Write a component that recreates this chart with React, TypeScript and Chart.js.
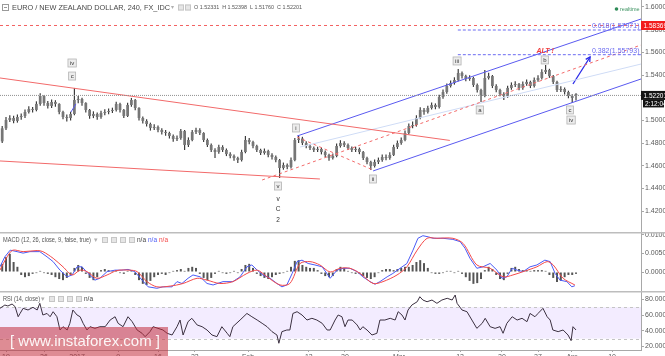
import React, { useEffect, useRef } from 'react';
import { Chart, registerables } from 'chart.js';

Chart.register(...registerables);

const FONT = '"Liberation Sans", Arial, Helvetica, sans-serif';

// ---------- time axis: one bar = half a trading day, bar 0 = Dec 19 ----------
const FIRST_BAR = -1;
const X_MIN = -1.58;
const X_MAX = 167.1;
const dateTickPositions = [0, 10, 18.7, 29.5, 40, 49.7, 63.7, 79.7, 89.2, 103.4, 119.5, 130.5, 140, 148.9, 159.5];
const dateTickLabels = ['19', '26', '2017', '9', '16', '23', 'Feb', '13', '20', 'Mar', '13', '20', '27', 'Apr', '10'];

// ---------- EUR/NZD candles ----------
const opens = [
  1.4815, 1.4930, 1.5003, 1.5021, 1.4995, 1.5030, 1.5039, 1.5074, 1.5100, 1.5092,
  1.5145, 1.5215, 1.5153, 1.5127, 1.5162, 1.5145, 1.5074, 1.5030, 1.5021, 1.5056,
  1.5180, 1.5189, 1.5153, 1.5092, 1.5039, 1.5056, 1.5030, 1.5065, 1.5074, 1.5083,
  1.5092, 1.5145, 1.5092, 1.5039, 1.5136, 1.5180, 1.5109, 1.5021, 1.4995, 1.4968,
  1.4933, 1.4942, 1.4915, 1.4897, 1.4889, 1.4862, 1.4836, 1.4844, 1.4906, 1.4783,
  1.4827, 1.4897, 1.4915, 1.4889, 1.4827, 1.4783, 1.4739, 1.4721, 1.4765, 1.4739,
  1.4703, 1.4686, 1.4668, 1.4650, 1.4721, 1.4827, 1.4809, 1.4774, 1.4739, 1.4712,
  1.4730, 1.4695, 1.4677, 1.4650, 1.4580, 1.4606, 1.4589, 1.4650, 1.4827, 1.4840,
  1.4800, 1.4774, 1.4756, 1.4739, 1.4748, 1.4721, 1.4695, 1.4668, 1.4686, 1.4774,
  1.4800, 1.4783, 1.4756, 1.4739, 1.4748, 1.4721, 1.4668, 1.4633, 1.4598, 1.4633,
  1.4650, 1.4677, 1.4668, 1.4695, 1.4765, 1.4800, 1.4827, 1.4889, 1.4950, 1.4959,
  1.5021, 1.5092, 1.5074, 1.5109, 1.5136, 1.5118, 1.5206, 1.5250, 1.5303, 1.5330,
  1.5356, 1.5418, 1.5391, 1.5365, 1.5374, 1.5312, 1.5268, 1.5215, 1.5374, 1.5391,
  1.5303, 1.5268, 1.5233, 1.5215, 1.5286, 1.5312, 1.5321, 1.5286, 1.5321, 1.5339,
  1.5303, 1.5356, 1.5374, 1.5427, 1.5444, 1.5391, 1.5339, 1.5268, 1.5277, 1.5250,
  1.5215, 1.52331,
];
const highs = [
  1.4950, 1.5030, 1.5045, 1.5040, 1.5052, 1.5060, 1.5095, 1.5125, 1.5118, 1.5168,
  1.5240, 1.5222, 1.5170, 1.5185, 1.5178, 1.5150, 1.5085, 1.5052, 1.5075, 1.5286,
  1.5215, 1.5200, 1.5160, 1.5100, 1.5080, 1.5070, 1.5085, 1.5098, 1.5105, 1.5112,
  1.5165, 1.5155, 1.5100, 1.5155, 1.5198, 1.5188, 1.5115, 1.5035, 1.5010, 1.4980,
  1.4965, 1.4955, 1.4930, 1.4915, 1.4900, 1.4875, 1.4866, 1.4925, 1.4915, 1.4850,
  1.4915, 1.4935, 1.4930, 1.4895, 1.4840, 1.4795, 1.4755, 1.4785, 1.4780, 1.4752,
  1.4718, 1.4700, 1.4680, 1.4740, 1.4862, 1.4845, 1.4820, 1.4785, 1.4750, 1.4752,
  1.4742, 1.4710, 1.4690, 1.4660, 1.4628, 1.4620, 1.4672, 1.4845, 1.4862, 1.4855,
  1.4815, 1.4790, 1.4770, 1.4768, 1.4760, 1.4735, 1.4705, 1.4708, 1.4795, 1.4825,
  1.4815, 1.4795, 1.4770, 1.4768, 1.4760, 1.4730, 1.4680, 1.4645, 1.4655, 1.4672,
  1.4698, 1.4700, 1.4718, 1.4785, 1.4822, 1.4850, 1.4910, 1.4972, 1.4990, 1.5045,
  1.5115, 1.5110, 1.5130, 1.5158, 1.5150, 1.5225, 1.5272, 1.5325, 1.5352, 1.5380,
  1.5453, 1.5430, 1.5402, 1.5398, 1.5385, 1.5325, 1.5280, 1.5444, 1.5420, 1.5400,
  1.5318, 1.5280, 1.5248, 1.5305, 1.5335, 1.5345, 1.5330, 1.5342, 1.5360, 1.5350,
  1.5378, 1.5398, 1.5450, 1.5488, 1.5455, 1.5400, 1.5350, 1.5300, 1.5290, 1.5262,
  1.5230, 1.52398,
];
const lows = [
  1.4800, 1.4915, 1.4985, 1.4975, 1.4980, 1.5005, 1.5020, 1.5060, 1.5070, 1.5080,
  1.5130, 1.5130, 1.5105, 1.5110, 1.5120, 1.5055, 1.5010, 1.4990, 1.5000, 1.5045,
  1.5150, 1.5130, 1.5070, 1.5015, 1.5020, 1.5005, 1.5015, 1.5045, 1.5055, 1.5065,
  1.5078, 1.5070, 1.5020, 1.5030, 1.5120, 1.5090, 1.5000, 1.4972, 1.4945, 1.4910,
  1.4915, 1.4895, 1.4875, 1.4865, 1.4840, 1.4812, 1.4818, 1.4830, 1.4739, 1.4765,
  1.4815, 1.4880, 1.4870, 1.4810, 1.4765, 1.4720, 1.4668, 1.4705, 1.4720, 1.4685,
  1.4665, 1.4645, 1.4624, 1.4638, 1.4710, 1.4790, 1.4755, 1.4720, 1.4695, 1.4698,
  1.4675, 1.4655, 1.4630, 1.4492, 1.4565, 1.4568, 1.4575, 1.4640, 1.4800, 1.4782,
  1.4755, 1.4738, 1.4720, 1.4722, 1.4700, 1.4675, 1.4645, 1.4655, 1.4675, 1.4760,
  1.4765, 1.4738, 1.4720, 1.4722, 1.4702, 1.4650, 1.4612, 1.4562, 1.4585, 1.4615,
  1.4635, 1.4648, 1.4652, 1.4685, 1.4748, 1.4785, 1.4815, 1.4875, 1.4930, 1.4945,
  1.5010, 1.5050, 1.5060, 1.5095, 1.5098, 1.5105, 1.5190, 1.5235, 1.5290, 1.5315,
  1.5345, 1.5370, 1.5345, 1.5350, 1.5295, 1.5245, 1.5162, 1.5205, 1.5360, 1.5285,
  1.5248, 1.5212, 1.5180, 1.5200, 1.5270, 1.5295, 1.5265, 1.5270, 1.5305, 1.5285,
  1.5290, 1.5340, 1.5360, 1.5410, 1.5375, 1.5320, 1.5250, 1.5250, 1.5228, 1.5195,
  1.5153, 1.51760,
];
const closes = [
  1.4930, 1.5003, 1.5021, 1.4995, 1.5030, 1.5039, 1.5074, 1.5100, 1.5092, 1.5145,
  1.5215, 1.5153, 1.5127, 1.5162, 1.5145, 1.5074, 1.5030, 1.5021, 1.5056, 1.5180,
  1.5189, 1.5153, 1.5092, 1.5039, 1.5056, 1.5030, 1.5065, 1.5074, 1.5083, 1.5092,
  1.5145, 1.5092, 1.5039, 1.5136, 1.5180, 1.5109, 1.5021, 1.4995, 1.4968, 1.4933,
  1.4942, 1.4915, 1.4897, 1.4889, 1.4862, 1.4836, 1.4844, 1.4906, 1.4783, 1.4827,
  1.4897, 1.4915, 1.4889, 1.4827, 1.4783, 1.4739, 1.4721, 1.4765, 1.4739, 1.4703,
  1.4686, 1.4668, 1.4650, 1.4721, 1.4827, 1.4809, 1.4774, 1.4739, 1.4712, 1.4730,
  1.4695, 1.4677, 1.4650, 1.4580, 1.4606, 1.4589, 1.4650, 1.4827, 1.4840, 1.4800,
  1.4774, 1.4756, 1.4739, 1.4748, 1.4721, 1.4695, 1.4668, 1.4686, 1.4774, 1.4800,
  1.4783, 1.4756, 1.4739, 1.4748, 1.4721, 1.4668, 1.4633, 1.4598, 1.4633, 1.4650,
  1.4677, 1.4668, 1.4695, 1.4765, 1.4800, 1.4827, 1.4889, 1.4950, 1.4959, 1.5021,
  1.5092, 1.5074, 1.5109, 1.5136, 1.5118, 1.5206, 1.5250, 1.5303, 1.5330, 1.5356,
  1.5418, 1.5391, 1.5365, 1.5374, 1.5312, 1.5268, 1.5215, 1.5374, 1.5391, 1.5303,
  1.5268, 1.5233, 1.5215, 1.5286, 1.5312, 1.5321, 1.5286, 1.5321, 1.5339, 1.5303,
  1.5356, 1.5374, 1.5427, 1.5444, 1.5391, 1.5339, 1.5268, 1.5277, 1.5250, 1.5215,
  1.5197, 1.52201,
];
const priceTicks = [1.42, 1.44, 1.46, 1.48, 1.5, 1.52, 1.54, 1.56, 1.58, 1.6];
const PRICE_MIN = 1.40155;
const PRICE_MAX = 1.60617;

// ---------- drawings on the price panel (bar, price) ----------
const alertLevel = 1.58369;
const fibStartBar = 118.9;
const fibLevels = [1.57971, 1.55793];
const fibLabels = ['0.618(1.57971)', '0.382(1.55793)'];
const fibLabelBar = 154.2;
const resistanceLine = [{ x: -1.58, y: 1.5374 }, { x: 116.8, y: 1.4823 }];
const supportLine = [{ x: -1.58, y: 1.4642 }, { x: 82.6, y: 1.4483 }];
const redDashRising = [{ x: 67.4, y: 1.4474 }, { x: 167.1, y: 1.5665 }];
const redDashWave = [{ x: 76.6, y: 1.4853 }, { x: 96.6, y: 1.4562 }];
const channelTop = [{ x: 76.6, y: 1.4862 }, { x: 167.1, y: 1.5894 }];
const channelBottom = [{ x: 96.6, y: 1.4554 }, { x: 167.1, y: 1.5365 }];
const channelInner = [{ x: 77.4, y: 1.4765 }, { x: 167.1, y: 1.5497 }];
const smallBlueLine = [{ x: 17.1, y: 1.5074 }, { x: 18.4, y: 1.5145 }];
const arrowLine = [{ x: 149.2, y: 1.5321 }, { x: 153.7, y: 1.5559 }];
const waveLabels = ['iv', 'c', 'v', 'i', 'ii', 'iii', 'a', 'b', 'c', 'iv'];
const waveBars = [17.4, 17.4, 71.6, 76.3, 96.6, 118.7, 124.7, 141.8, 148.4, 148.7];
const wavePrices = [1.5506, 1.5391, 1.4421, 1.4933, 1.4483, 1.5524, 1.5092, 1.5533, 1.5092, 1.5003];
const plainLabels = ['v', 'C', '2'];
const plainBars = [71.6, 71.6, 71.6];
const plainPrices = [1.4307, 1.4218, 1.4121];
const altLabel = 'ALT !';
const altBar = 141.9;
const altPrice = 1.5612;

// ---------- MACD ----------
const macdHist = [
  0.0022, 0.0040, 0.0049, 0.0027, 0.0014, -0.0008, -0.0014, -0.0011, -0.0005, -0.0003,
  0.0003, -0.0003, -0.0005, -0.0008, -0.0014, -0.0019, -0.0022, -0.0016, -0.0008, 0.0011,
  0.0019, 0.0014, -0.0005, -0.0016, -0.0022, -0.0014, 0.0005, 0.0008, 0.0005, 0.0003,
  0.0005, -0.0003, -0.0005, 0.0003, 0.0005, -0.0008, -0.0022, -0.0032, -0.0035, -0.0024,
  -0.0014, -0.0008, -0.0005, -0.0008, -0.0003, 0.0003, 0.0005, 0.0008, 0.0003, 0.0011,
  0.0014, 0.0011, -0.0005, -0.0016, -0.0022, -0.0016, -0.0005, 0.0003, -0.0003, -0.0005,
  -0.0003, 0.0003, -0.0003, 0.0008, 0.0019, 0.0022, 0.0011, -0.0005, -0.0011, -0.0016,
  -0.0019, -0.0014, -0.0008, -0.0005, -0.0003, 0.0003, 0.0014, 0.0030, 0.0032, 0.0019,
  0.0014, 0.0011, 0.0011, 0.0005, -0.0005, -0.0011, -0.0014, -0.0011, 0.0008, 0.0014,
  0.0011, 0.0003, -0.0003, -0.0005, -0.0005, -0.0011, -0.0016, -0.0019, -0.0014, -0.0003,
  0.0005, 0.0008, 0.0008, 0.0005, 0.0008, 0.0011, 0.0014, 0.0014, 0.0019, 0.0027,
  0.0032, 0.0024, 0.0011, -0.0003, -0.0005, -0.0005, -0.0003, 0.0003, 0.0003, -0.0003,
  0.0003, -0.0005, -0.0014, -0.0024, -0.0032, -0.0030, -0.0019, 0.0005, 0.0014, 0.0008,
  -0.0008, -0.0019, -0.0022, -0.0005, 0.0011, 0.0014, 0.0008, 0.0005, 0.0005, 0.0003,
  0.0005, 0.0005, 0.0005, 0.0003, -0.0008, -0.0016, -0.0027, -0.0024, -0.0014, -0.0008,
  -0.0008, -0.0005,
];
const macdBars = [
  -1.6, -0.3, 1.1, 2.9, 4.5, 6.3, 8.9, 10.8, 12.4, 14.2, 16.1, 17.4, 18.7, 20, 21.6, 23.4, 24.7, 26.6, 28.7, 30.5,
  32.1, 33.9, 35.8, 37.4, 39.7, 41.3, 43.7, 45, 46.3, 47.9, 49.2, 51.1, 52.9, 54.5, 57.1, 59.7, 61.6, 63.4, 64.7, 66.1,
  67.6, 69.5, 71.3, 72.6, 73.9, 75.3, 76.6, 77.9, 79.5, 81.3, 83.2, 84.7, 85.3, 87.1, 88.7, 90.5, 92.4, 93.9, 95.8, 97.1,
  98.4, 100.3, 101.8, 103.7, 105.5, 107.1, 108.4, 109.7, 111.1, 112.4, 115, 117.6, 119.5, 120.8, 122.1, 123.9, 125.5, 127.4, 129.2, 130.5,
  131.8, 133.2, 134.5, 136.1, 137.9, 139.7, 141.8, 143.2, 144.5, 145.8, 147.6, 148.9, 149.7,
];
const macdValues = [
  0.0014, 0.0041, 0.0059, 0.0055, 0.0051, 0.0055, 0.0055, 0.0041, 0.0028, 0.0005, -0.0013, -0.0008, 0.0014, 0.0014, -0.0004, -0.0022, -0.0017, 0.0001, 0.0005, 0.0005,
  0.0007, 0.0001, -0.0022, -0.0040, -0.0044, -0.0040, -0.0040, -0.0026, -0.0031, -0.0017, -0.0008, -0.0013, -0.0031, -0.0035, -0.0026, -0.0026, -0.0013, 0.0014, 0.0019, 0.0005,
  -0.0008, -0.0017, -0.0031, -0.0040, -0.0035, -0.0004, 0.0028, 0.0032, 0.0023, 0.0019, 0.0014, -0.0008, -0.0017, 0.0005, 0.0010, 0.0010, 0.0001, -0.0013, -0.0026, -0.0033,
  -0.0026, -0.0013, -0.0004, 0.0010, 0.0023, 0.0059, 0.0091, 0.0098, 0.0095, 0.0091, 0.0091, 0.0088, 0.0082, 0.0064, 0.0037, 0.0010, 0.0014, 0.0023, 0.0005, -0.0017,
  -0.0013, 0.0010, 0.0005, 0.0001, 0.0014, 0.0019, 0.0032, 0.0028, -0.0004, -0.0022, -0.0026, -0.0040, -0.0037,
];
const signalBars = [
  -1.6, 0.3, 1.8, 4.5, 8.2, 9.7, 12.4, 15, 17.4, 19.5, 21.3, 23.9, 26.6, 29.2, 32.6, 34.5, 37.1, 39.7, 43.2, 46.6,
  50.3, 52.9, 56.3, 59.7, 63.4, 66.1, 68.7, 72.1, 74.7, 77.4, 80, 82.6, 85.3, 87.9, 90.5, 93.2, 96.6, 99.2, 102.9, 105.5,
  108.2, 110.8, 113.4, 117.6, 120.3, 123.9, 127.4, 130.8, 133.4, 136.1, 139.7, 142.4, 144, 146.6, 149.7,
];
const signalValues = [
  0.0005, 0.0041, 0.0059, 0.0055, 0.0058, 0.0055, 0.0037, 0.0014, -0.0008, 0.0005, 0.0001, -0.0017, -0.0008, 0.0004, 0.0005, 0.0001, -0.0026, -0.0040, -0.0038, -0.0031,
  -0.0017, -0.0022, -0.0031, -0.0026, -0.0004, 0.0005, -0.0013, -0.0035, -0.0031, 0.0023, 0.0028, 0.0019, 0.0000, 0.0010, 0.0010, -0.0004, -0.0031, -0.0026, -0.0008, 0.0014,
  0.0059, 0.0091, 0.0091, 0.0091, 0.0077, 0.0019, 0.0010, -0.0013, -0.0008, 0.0001, 0.0014, 0.0028, 0.0019, -0.0017, -0.0035,
];
const macdTicks = [0, 0.005, 0.01];
const MACD_MIN = -0.00513;
const MACD_MAX = 0.0108;

// ---------- RSI ----------
const rsiBars = [
  -1.6, -0.3, 0.5, 1.6, 2.4, 3.2, 3.7, 4.5, 5.8, 7.1, 8.2, 8.9, 9.7, 10.8, 11.6, 12.4, 13.4, 14.2, 15, 16.1,
  16.8, 17.6, 18.7, 19.5, 20.3, 21.3, 22.1, 23.4, 24.7, 26.1, 27.4, 28.7, 29.5, 30.8, 32.1, 33.2, 34.5, 35.8, 36.6, 37.9,
  38.7, 40, 41.3, 42.4, 43.7, 45, 45.8, 46.6, 47.9, 48.9, 50.3, 51.6, 52.9, 54.2, 55.5, 56.8, 58.2, 58.9, 59.7, 61.6,
  63.4, 64.7, 66.1, 67.4, 68.7, 70, 71.3, 71.8, 72.6, 73.9, 74.7, 75.5, 76.6, 77.9, 79.2, 80.5, 81.8, 83.2, 84.5, 85.3,
  86.6, 87.4, 88.4, 89.2, 90, 91.1, 92.4, 93.2, 93.9, 95, 96.3, 97.6, 98.4, 99.7, 101.1, 102.4, 103.2, 104.2, 105, 105.8,
  106.8, 108.2, 108.9, 109.7, 110.8, 112.1, 113.4, 114.7, 116.1, 117.4, 118.2, 118.7, 120, 121.3, 122.6, 123.9, 125.3, 126.1, 127.4, 128.7,
  130, 130.8, 131.8, 133.2, 134.5, 135.8, 137.1, 137.9, 139.2, 140, 141.3, 142.4, 143.2, 143.9, 145.3, 146.6, 147.9, 148.7, 149.2, 150,
];
const rsiValues = [
  68.5, 72.7, 71.5, 74, 70.6, 57.8, 62, 68.5, 66.4, 69.8, 66.4, 74.9, 60, 62, 57.8, 64.2, 57.8, 40.9, 45.1, 40.9,
  49.4, 66.4, 60, 57.8, 49.4, 40.9, 45.1, 43, 45.1, 45.1, 53.6, 57.8, 49.4, 45.1, 57.8, 51.5, 40.9, 36.7, 32.4, 38.8,
  45.1, 43, 40.9, 36.7, 34.5, 45.1, 53.6, 34.5, 51.5, 55.8, 47.3, 45.1, 40.9, 34.5, 32.4, 45.1, 36.7, 32.4, 45.1, 53.6,
  62, 57.8, 53.6, 49.4, 45.1, 38.8, 34.5, 24, 38.8, 40.9, 40.9, 62, 64.2, 60, 53.6, 55.8, 53.6, 49.4, 40.9, 40.9,
  53.6, 60, 57.8, 45.1, 53.6, 53.6, 47.3, 40.9, 45.1, 40.9, 34.5, 36.7, 53.6, 53.6, 55.8, 53.6, 64.2, 60, 53.6, 66.4,
  72.7, 76.9, 83.3, 79.1, 76.9, 79.1, 74.9, 79.1, 81.3, 79.1, 85.5, 74.9, 66.4, 64.2, 53.6, 43, 49.4, 55.8, 45.1, 43,
  45.1, 36.7, 49.4, 57.8, 53.6, 55.8, 51.5, 62, 57.8, 62, 68.5, 57.8, 53.6, 40.9, 38.8, 40.9, 34.5, 27.3, 45.1, 40.9,
];
const rsiTicks = [20, 40, 60, 80];
const rsiBand = [30, 70];
const RSI_MIN = 15.4;
const RSI_MAX = 90.6;

// ---------- helpers ----------
const pts = (xs: number[], ys: number[]) => ys.slice(0, xs.length).map((v, i) => ({ x: xs[i], y: v }));
const barX = (i: number) => FIRST_BAR + i;

const common: any = {
  animation: false,
  responsive: false,
  devicePixelRatio: 1,
  events: [],
  layout: { padding: 0, autoPadding: false },
  plugins: { legend: { display: false }, tooltip: { enabled: false } },
};

const hiddenX: any = { type: 'linear', min: X_MIN, max: X_MAX, display: false, offset: false, grid: { offset: false } };

function rightAxis(min: number, max: number, ticks: number[], digits: number): any {
  return {
    type: 'linear',
    position: 'right',
    min,
    max,
    afterBuildTicks: (axis: any) => { axis.ticks = ticks.map((v) => ({ value: v })); },
    afterFit: (axis: any) => { axis.width = 24; axis.paddingTop = 0; axis.paddingBottom = 0; },
    ticks: { callback: (v: any) => Number(v).toFixed(digits), font: { size: 7, family: FONT }, color: '#5a5a5a', padding: 1, autoSkip: false },
    grid: { display: true, drawOnChartArea: false, drawTicks: true, tickLength: 3, color: '#a8a8a8' },
    border: { display: true, color: '#a8a8a8' },
  };
}

const seg = (data: any[], color: string, dash: number[] = [], width = 1): any => ({
  type: 'line', data, borderColor: color, borderWidth: width, borderDash: dash,
  pointRadius: 0, fill: false, tension: 0, order: 1,
});

function icons(ctx: CanvasRenderingContext2D, xs: number[], y: number) {
  xs.forEach((x) => {
    ctx.fillStyle = '#e6e6e6';
    ctx.strokeStyle = '#c6c6c6';
    ctx.lineWidth = 1;
    ctx.fillRect(x, y, 6, 6);
    ctx.strokeRect(x + 0.5, y + 0.5, 5, 5);
  });
}

function boxLabel(ctx: CanvasRenderingContext2D, text: string, cx: number, cy: number) {
  ctx.font = `6px ${FONT}`;
  const w = Math.max(ctx.measureText(text).width + 4, 7);
  const h = 8;
  ctx.fillStyle = '#ececec';
  ctx.strokeStyle = '#b4b4b4';
  ctx.lineWidth = 0.8;
  ctx.fillRect(cx - w / 2, cy - h / 2, w, h);
  ctx.strokeRect(cx - w / 2, cy - h / 2, w, h);
  ctx.fillStyle = '#333';
  ctx.textAlign = 'center';
  ctx.textBaseline = 'middle';
  ctx.fillText(text, cx, cy + 0.5);
}

const mainOverlay = {
  id: 'mainOverlay',
  afterDatasetsDraw(chart: any) {
    const { ctx, scales: { x, y } } = chart;
    ctx.save();
    waveLabels.forEach((t, i) => boxLabel(ctx, t, x.getPixelForValue(waveBars[i]), y.getPixelForValue(wavePrices[i])));
    ctx.font = `6.5px ${FONT}`;
    ctx.fillStyle = '#333';
    ctx.textAlign = 'center';
    ctx.textBaseline = 'middle';
    plainLabels.forEach((t, i) => ctx.fillText(t, x.getPixelForValue(plainBars[i]), y.getPixelForValue(plainPrices[i])));
    ctx.font = `italic bold 7px ${FONT}`;
    ctx.fillStyle = '#f03a3a';
    ctx.fillText(altLabel, x.getPixelForValue(altBar), y.getPixelForValue(altPrice));
    ctx.font = `7px ${FONT}`;
    ctx.fillStyle = '#6a6af0';
    ctx.textAlign = 'left';
    ctx.textBaseline = 'bottom';
    fibLevels.forEach((lvl, i) => ctx.fillText(fibLabels[i], x.getPixelForValue(fibLabelBar), y.getPixelForValue(lvl) - 0.5));
    const x1 = x.getPixelForValue(arrowLine[0].x), y1 = y.getPixelForValue(arrowLine[0].y);
    const x2 = x.getPixelForValue(arrowLine[1].x), y2 = y.getPixelForValue(arrowLine[1].y);
    const ang = Math.atan2(y2 - y1, x2 - x1);
    ctx.strokeStyle = '#2a2ae8';
    ctx.lineWidth = 1.3;
    ctx.beginPath();
    ctx.moveTo(x2 - 5 * Math.cos(ang - 0.5), y2 - 5 * Math.sin(ang - 0.5));
    ctx.lineTo(x2, y2);
    ctx.lineTo(x2 - 5 * Math.cos(ang + 0.5), y2 - 5 * Math.sin(ang + 0.5));
    ctx.stroke();
    ctx.restore();
  },
  afterDraw(chart: any) {
    const { ctx, scales: { y } } = chart;
    const last = closes.length - 1;
    ctx.save();
    ctx.textBaseline = 'middle';
    ctx.textAlign = 'left';
    ctx.strokeStyle = '#9a9a9a';
    ctx.lineWidth = 1;
    ctx.strokeRect(2.5, 4.5, 6, 6);
    ctx.beginPath();
    ctx.moveTo(4, 7.5);
    ctx.lineTo(7, 7.5);
    ctx.stroke();
    ctx.font = `8px ${FONT}`;
    ctx.fillStyle = '#484848';
    ctx.fillText('EURO / NEW ZEALAND DOLLAR, 240, FX_IDC', 12, 7.5, 158);
    ctx.font = `6px ${FONT}`;
    ctx.fillStyle = '#b0b0b0';
    ctx.fillText('▾', 171, 7.5);
    icons(ctx, [178, 185], 4.5);
    ctx.font = `5.5px ${FONT}`;
    ctx.fillStyle = '#555';
    const ohlc = `O ${opens[last].toFixed(5)}  H ${highs[last].toFixed(5)}  L ${lows[last].toFixed(5)}  C ${closes[last].toFixed(5)}`;
    ctx.fillText(ohlc, 194, 7.5, 108);
    ctx.fillStyle = '#2e8b57';
    ctx.beginPath();
    ctx.arc(616.5, 9, 1.8, 0, Math.PI * 2);
    ctx.fill();
    ctx.font = `5.5px ${FONT}`;
    ctx.fillStyle = '#3f9463';
    ctx.fillText('realtime', 620, 9, 20);
    const ya = y.getPixelForValue(alertLevel);
    ctx.fillStyle = '#f21c1c';
    ctx.fillRect(641, ya - 4.5, 24, 9);
    ctx.fillStyle = '#fff';
    ctx.font = `6.5px ${FONT}`;
    ctx.fillText(alertLevel.toFixed(5), 643.5, ya + 0.5);
    const yc = y.getPixelForValue(closes[last]);
    ctx.fillStyle = '#141414';
    ctx.fillRect(641, yc - 4.5, 24, 9);
    ctx.fillRect(643, yc + 4.5, 21, 7.5);
    ctx.fillStyle = '#fff';
    ctx.fillText(closes[last].toFixed(5), 643.5, yc + 0.5);
    ctx.fillText('2:12:04', 645, yc + 8.5);
    ctx.restore();
  },
};

const macdOverlay = {
  id: 'macdOverlay',
  afterDraw(chart: any) {
    const { ctx } = chart;
    ctx.save();
    ctx.fillStyle = '#bdbdbd';
    ctx.fillRect(0, 0, 665, 1.5);
    ctx.textBaseline = 'middle';
    ctx.textAlign = 'left';
    ctx.font = `6.5px ${FONT}`;
    ctx.fillStyle = '#555';
    ctx.fillText('MACD (12, 26, close, 9, false, true)', 3, 8, 88);
    ctx.fillStyle = '#b0b0b0';
    ctx.fillText('▾', 94, 8);
    icons(ctx, [102, 111, 120, 129], 5);
    ctx.fillStyle = '#444';
    ctx.fillText('n/a', 137, 8);
    ctx.fillStyle = '#4c5cf5';
    ctx.fillText('n/a', 148, 8);
    ctx.fillStyle = '#f44848';
    ctx.fillText('n/a', 159, 8);
    ctx.restore();
  },
};

const rsiOverlay = {
  id: 'rsiOverlay',
  beforeDatasetsDraw(chart: any) {
    const { ctx, chartArea: a, scales: { y } } = chart;
    const yTop = y.getPixelForValue(rsiBand[1]);
    const yBot = y.getPixelForValue(rsiBand[0]);
    ctx.save();
    ctx.fillStyle = 'rgba(153, 102, 255, 0.12)';
    ctx.fillRect(a.left, yTop, a.right - a.left, yBot - yTop);
    ctx.strokeStyle = '#c4c4c4';
    ctx.lineWidth = 1;
    ctx.setLineDash([3, 3]);
    [yTop, yBot].forEach((yy) => {
      ctx.beginPath();
      ctx.moveTo(a.left, Math.round(yy) + 0.5);
      ctx.lineTo(a.right, Math.round(yy) + 0.5);
      ctx.stroke();
    });
    ctx.restore();
  },
  afterDraw(chart: any) {
    const { ctx } = chart;
    ctx.save();
    ctx.fillStyle = '#bdbdbd';
    ctx.fillRect(0, 0, 665, 1.5);
    ctx.textBaseline = 'middle';
    ctx.textAlign = 'left';
    ctx.font = `6.5px ${FONT}`;
    ctx.fillStyle = '#555';
    ctx.fillText('RSI (14, close)', 3, 8, 37);
    ctx.fillStyle = '#b0b0b0';
    ctx.fillText('▾', 41, 8);
    icons(ctx, [49, 58, 67, 76], 5);
    ctx.fillStyle = '#444';
    ctx.fillText('n/a', 84, 8);
    ctx.fillStyle = 'rgba(195, 45, 60, 0.55)';
    ctx.fillRect(0, 36, 168, 34);
    ctx.fillStyle = 'rgba(255, 255, 255, 0.92)';
    ctx.font = `15px ${FONT}`;
    ctx.fillText('[ www.instaforex.com ]', 10, 51, 150);
    ctx.restore();
  },
};

export default function App() {
  const refA = useRef<HTMLCanvasElement>(null);
  const refB = useRef<HTMLCanvasElement>(null);
  const refC = useRef<HTMLCanvasElement>(null);

  useEffect(() => {
    const wickData = closes.map((_, i) => ({ x: barX(i), y: [lows[i], highs[i]] }));
    const bodyData = closes.map((c, i) => ({ x: barX(i), y: [opens[i], c] }));
    const full = (v: number) => [{ x: X_MIN, y: v }, { x: X_MAX, y: v }];

    const a = new Chart(refA.current as HTMLCanvasElement, {
      type: 'bar',
      data: {
        datasets: [
          { type: 'bar', data: wickData, backgroundColor: '#3c3c3c', maxBarThickness: 1.2, grouped: false, order: 11 } as any,
          { type: 'bar', data: bodyData, backgroundColor: '#767676', maxBarThickness: 3, minBarLength: 1, grouped: false, order: 10 } as any,
          seg(full(alertLevel), '#f26262', [3, 3]),
          seg(full(closes[closes.length - 1]), '#8f8f8f', [1, 1]),
          ...fibLevels.map((l) => seg([{ x: fibStartBar, y: l }, { x: X_MAX, y: l }], '#6b6bf2', [3, 2])),
          seg(resistanceLine, '#f26a6a'),
          seg(supportLine, '#f26a6a'),
          seg(redDashRising, '#f26a6a', [3, 3]),
          seg(redDashWave, '#f26a6a', [3, 3]),
          seg(channelInner, '#cfdcf6'),
          seg(channelTop, '#5a5af0'),
          seg(channelBottom, '#5a5af0'),
          seg(smallBlueLine, '#5a5af0'),
          seg(arrowLine, '#2a2ae8', [], 1.3),
        ],
      },
      options: { ...common, scales: { x: hiddenX, y: rightAxis(PRICE_MIN, PRICE_MAX, priceTicks, 5) } },
      plugins: [mainOverlay],
    });

    const b = new Chart(refB.current as HTMLCanvasElement, {
      type: 'bar',
      data: {
        datasets: [
          { type: 'line', data: pts(macdBars, macdValues), borderColor: '#4a5af6', borderWidth: 1, pointRadius: 0, tension: 0, order: 2 } as any,
          { type: 'line', data: pts(signalBars, signalValues), borderColor: '#f44848', borderWidth: 1, pointRadius: 0, tension: 0.3, order: 1 } as any,
          { type: 'bar', data: macdHist.map((v, i) => ({ x: barX(i), y: v })), backgroundColor: '#555555', maxBarThickness: 2, grouped: false, order: 5 } as any,
        ],
      },
      options: { ...common, scales: { x: hiddenX, y: rightAxis(MACD_MIN, MACD_MAX, macdTicks, 4) } },
      plugins: [macdOverlay],
    });

    const c = new Chart(refC.current as HTMLCanvasElement, {
      type: 'line',
      data: {
        datasets: [
          { data: pts(rsiBars, rsiValues), borderColor: '#3b3040', borderWidth: 1, pointRadius: 0, tension: 0, fill: false } as any,
        ],
      },
      options: {
        ...common,
        scales: {
          x: {
            type: 'linear', min: X_MIN, max: X_MAX, offset: false, position: 'bottom',
            afterBuildTicks: (axis: any) => { axis.ticks = dateTickPositions.map((v) => ({ value: v })); },
            afterFit: (axis: any) => { axis.height = 11; axis.paddingLeft = 0; axis.paddingRight = 0; },
            ticks: { callback: (_v: any, i: number) => dateTickLabels[i], autoSkip: false, maxRotation: 0, minRotation: 0, font: { size: 7, family: FONT }, color: '#5a5a5a', padding: 1 },
            grid: { display: true, drawOnChartArea: false, drawTicks: true, tickLength: 2, color: '#a8a8a8', offset: false },
            border: { display: true, color: '#a8a8a8' },
          },
          y: rightAxis(RSI_MIN, RSI_MAX, rsiTicks, 4),
        },
      },
      plugins: [rsiOverlay],
    });

    return () => { a.destroy(); b.destroy(); c.destroy(); };
  }, []);

  return (
    <div style={{ position: 'absolute', left: 0, top: 0, width: 665, height: 356, overflow: 'hidden', background: '#fff' }}>
      <canvas ref={refA} width={665} height={232} style={{ position: 'absolute', left: 0, top: 0 }} />
      <canvas ref={refB} width={665} height={59} style={{ position: 'absolute', left: 0, top: 232 }} />
      <canvas ref={refC} width={665} height={70} style={{ position: 'absolute', left: 0, top: 291 }} />
    </div>
  );
}
